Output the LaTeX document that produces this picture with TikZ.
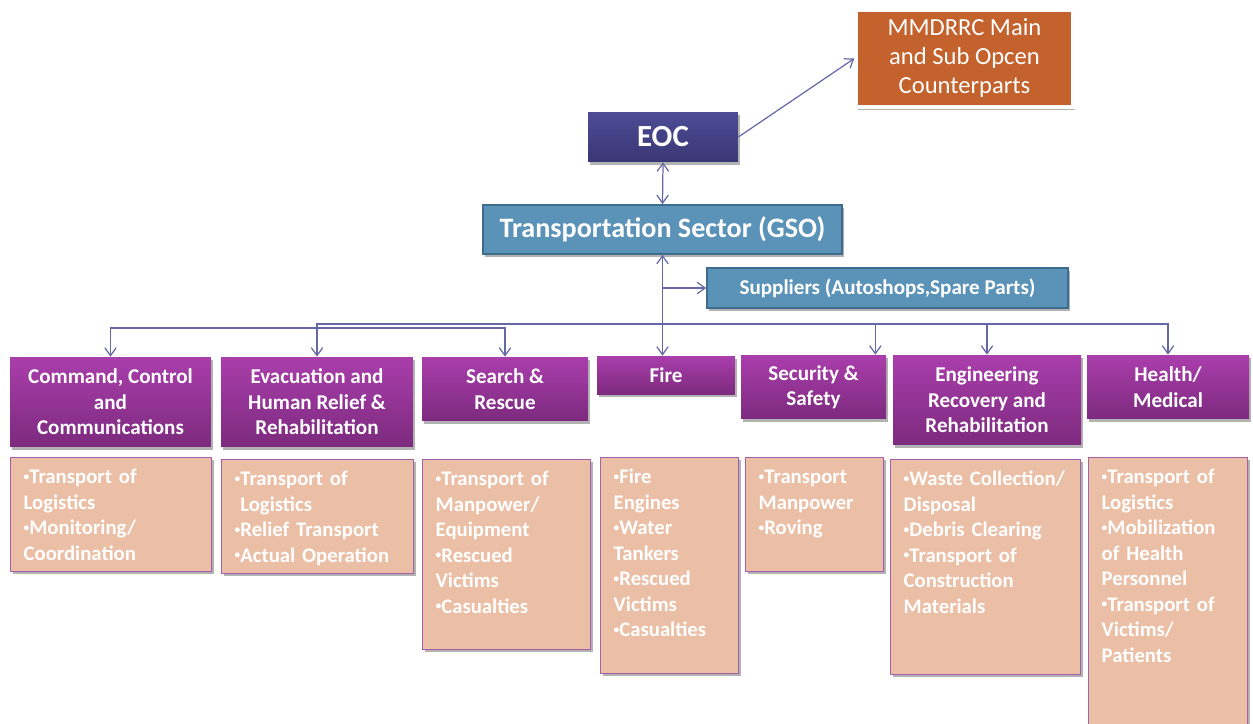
\documentclass[tikz,border=0pt]{standalone}
\usepackage{fontspec}
\setmainfont{Carlito}
\usepackage{graphicx}
\usepackage{tikz}
\usepackage{xcolor}
\usetikzlibrary{arrows.meta,shadows}

\definecolor{linkc}{RGB}{103,103,168}
\definecolor{purtop}{RGB}{170,62,172}
\definecolor{purbot}{RGB}{124,42,126}
\definecolor{peach}{RGB}{235,191,166}
\definecolor{peachedge}{RGB}{165,94,170}
\definecolor{gsoblue}{RGB}{91,147,184}
\definecolor{gsoedge}{RGB}{62,108,140}
\definecolor{eoctop}{RGB}{78,76,150}
\definecolor{eocbot}{RGB}{57,55,115}
\definecolor{opcen}{RGB}{196,98,45}

% small bullet as in the task lists
\newcommand{\bul}{\raisebox{0.35ex}{\scalebox{0.55}{•}}}

\begin{document}
\begin{tikzpicture}[x=0.02cm, y=-0.02cm,
    >={Straight Barb[length=4.5pt,width=6.5pt]},
    link/.style={draw=linkc, line width=0.7pt},
    shade/.style={drop shadow={shadow xshift=1.2pt, shadow yshift=-1.5pt, opacity=0.3, fill=black}},
    head/.style={shade, shading=axis, top color=purtop, bottom color=purbot, text=white,
        font=\bfseries\fontsize{12}{14.5}\selectfont, align=center, inner sep=0pt},
    list/.style={shade, fill=peach, draw=peachedge, line width=0.8pt, text=white, anchor=north west,
        font=\bfseries\fontsize{11.8}{14.5}\selectfont, align=left, inner ysep=0pt, inner xsep=0.26cm,
        text height=0.52cm},
    gso/.style={shade, fill=gsoblue, draw=gsoedge, line width=1pt, text=white, inner sep=0pt}]

    % Setup
    \useasboundingbox (0,0) rectangle (1253,723);

    % Top of the chart
    \node[shade, fill=opcen, draw=white, line width=2pt, text=white, align=center, inner sep=0pt,
        minimum width=4.34cm, minimum height=1.94cm, font=\fontsize{14}{16.5}\selectfont]
        (mmd) at (964.5,58.5) {MMDRRC Main\\and Sub Opcen\\Counterparts};
    \node[shade, shading=axis, top color=eoctop, bottom color=eocbot, text=white, inner sep=0pt,
        minimum width=3cm, minimum height=1cm, font=\bfseries\fontsize{17.5}{20}\selectfont]
        (eoc) at (663,137) {EOC};
    \node[gso, minimum width=7.18cm, minimum height=0.98cm, font=\bfseries\fontsize{16}{19}\selectfont]
        (tss) at (662.5,229.5) {Transportation Sector (GSO)};
    \node[gso, minimum width=7.22cm, minimum height=0.8cm, font=\bfseries\fontsize{12}{14}\selectfont]
        (sup) at (887.5,288) {Suppliers (Autoshops,Spare Parts)};

    % Sector heads
    \node[head, minimum width=4.02cm, minimum height=1.8cm] (cmd) at (110.5,402) {Command, Control\\and\\Communications};
    \node[head, minimum width=3.84cm, minimum height=1.8cm] (evac) at (317,402) {Evacuation and\\Human Relief \&\\Rehabilitation};
    \node[head, minimum width=3.32cm, minimum height=1.28cm] (sar) at (505,389) {Search \&\\Rescue};
    \node[head, minimum width=2.76cm, minimum height=0.76cm] (fire) at (666,375) {Fire};
    \node[head, minimum width=2.9cm, minimum height=1.28cm] (sec) at (813.5,387) {Security \&\\Safety};
    \node[head, minimum width=3.76cm, minimum height=1.8cm] (eng) at (987,400) {Engineering\\Recovery and\\Rehabilitation};
    \node[head, minimum width=3.24cm, minimum height=1.28cm] (hlt) at (1168,387) {Health/\\Medical};

    % Tasks under each head
    \node[list, text width=3.5cm, text depth=1.76cm] (cmdlist) at (10,457)
        {\bul Transport of\\Logistics\\\bul Monitoring/\\Coordination};
    \node[list, text width=3.32cm, text depth=1.76cm] (evaclist) at (221,459)
        {\bul Transport of\\\phantom{\bul}Logistics\\\bul Relief Transport\\\bul Actual Operation};
    \node[list, text width=2.84cm, text depth=3.28cm] (sarlist) at (422,459)
        {\bul Transport of\\Manpower/\\Equipment\\\bul Rescued\\Victims\\\bul Casualties};
    \node[list, text width=2.24cm, text depth=3.8cm] (firelist) at (600,457)
        {\bul Fire\\Engines\\\bul Water\\Tankers\\\bul Rescued\\Victims\\\bul Casualties};
    \node[list, text width=2.24cm, text depth=1.76cm] (seclist) at (745,457)
        {\bul Transport\\Manpower\\\bul Roving};
    \node[list, text width=3.28cm, text depth=3.78cm] (englist) at (890,459)
        {\bul Waste Collection/\\Disposal\\\bul Debris Clearing\\\bul Transport of\\Construction\\Materials};
    \node[list, text width=2.66cm, text depth=4.84cm] (hltlist) at (1088,457)
        {\bul Transport of\\Logistics\\\bul Mobilization\\of Health\\Personnel\\\bul Transport of\\Victims/\\Patients};

    % Links at the top
    \draw[link, <->] (eoc.south) -- (tss.north);
    \draw[link, ->] (eoc.east) -- (mmd.west);
    \draw[link, <->] (tss.south) -- (tss.south |- fire.north);
    \draw[link, ->] (tss.south |- sup.west) -- (sup.west);

    % Bus lines to the heads
    \coordinate (busr) at (665,324);
    \coordinate (busl) at (300,328);
    \foreach \n in {evac,eng,hlt} {
        \draw[link, ->] (busr) -| (\n.north);
    }
    \draw[link, ->] (busr) -| ([xshift=-0.22cm]sec.north east);
    \draw[link, <->] (cmd.north) |- (busl) -| (sar.north);
\end{tikzpicture}
\end{document}
